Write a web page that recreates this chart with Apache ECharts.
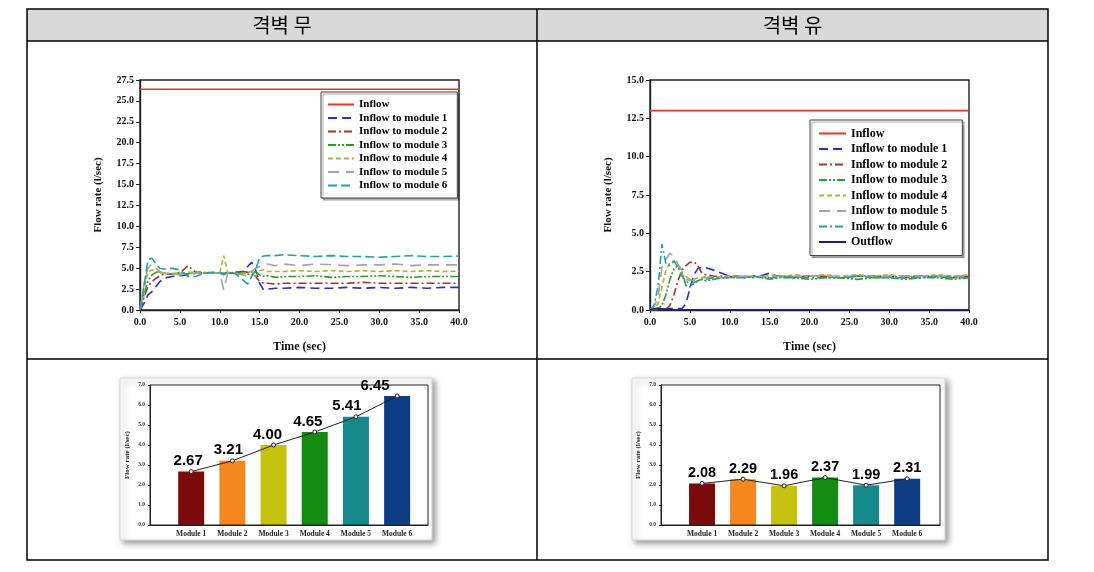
<!DOCTYPE html>
<html><head><meta charset="utf-8">
<script src="https://cdn.jsdelivr.net/npm/echarts@6/dist/echarts.min.js"></script>
<style>html,body{margin:0;padding:0;background:#fff}#c{width:1094px;height:572px}</style>
</head><body><div id="c"></div>
<script>
// ---------- DATA ----------
const headerTexts = ['격벽 무', '격벽 유'];

// Panel 1: without partition
const inflow1 = 26.4;
const time1 = [0,0.5,1,1.5,2,2.5,3,4,5,6,7,8,9,10,10.5,11,12,13,13.5,14,14.5,15,15.5,16,17,18,20,22,24,26,28,30,32,34,36,38,40];
const p1m1 = [0,0.8,1.8,2.2,2.8,3.4,3.8,4.0,4.1,4.2,4.4,4.5,4.4,4.4,4.4,4.4,4.5,4.6,5.2,5.7,4.8,3.2,2.4,2.5,2.6,2.6,2.7,2.6,2.6,2.7,2.6,2.7,2.6,2.7,2.6,2.7,2.7];
const p1m2 = [0,1.5,2.8,3.4,3.8,4.1,4.3,4.3,4.4,5.3,4.5,4.5,4.4,4.4,4.4,4.4,4.5,4.6,4.5,4.7,4.0,3.4,3.2,3.2,3.1,3.2,3.2,3.2,3.2,3.2,3.3,3.2,3.2,3.2,3.2,3.2,3.2];
const p1m3 = [0,1.8,3.5,4.2,4.5,4.5,4.4,4.3,4.5,4.3,4.6,4.4,4.5,4.4,4.2,4.5,4.4,4.4,4.3,4.2,4.6,4.2,4.0,4.1,3.9,4.0,4.0,4.1,3.9,4.0,4.0,4.1,4.0,3.9,4.0,4.0,4.0];
const p1m4 = [0,2.5,4.5,4.8,4.6,4.5,4.4,4.4,4.4,4.5,4.5,4.4,4.5,4.4,6.5,4.5,4.4,4.4,4.5,4.6,4.0,4.7,4.8,4.6,4.6,4.6,4.7,4.6,4.7,4.6,4.7,4.6,4.7,4.6,4.7,4.6,4.65];
const p1m5 = [0,3.0,5.0,5.5,5.0,4.6,4.4,4.3,4.2,4.3,4.4,4.5,4.4,4.4,2.4,4.4,4.3,4.2,4.0,4.6,5.0,5.2,5.4,5.5,5.3,5.5,5.3,5.5,5.4,5.3,5.4,5.4,5.5,5.3,5.4,5.4,5.4];
const p1m6 = [0,2.8,6.0,6.2,5.5,5.0,4.9,5.0,4.8,4.0,4.0,4.4,4.5,4.4,4.3,4.5,4.3,3.5,3.1,4.0,4.8,6.3,6.45,6.5,6.5,6.6,6.5,6.4,6.5,6.4,6.4,6.3,6.4,6.5,6.4,6.4,6.45];

// Panel 2: with partition
const inflow2 = 13.0;
const time2 = [0,0.5,1,1.5,2,2.5,3,3.5,4,4.5,5,5.5,6,6.5,7,8,9,10,11,12,13,14,15,16,17,18,20,22,24,26,28,30,32,34,36,38,40];
const p2m1 = [0,0,0.05,0.05,0.05,0.1,0.1,0.1,0.1,0.4,1.4,2.3,2.7,2.8,2.75,2.6,2.4,2.2,2.2,2.15,2.2,2.25,2.4,2.2,2.2,2.15,2.2,2.2,2.15,2.2,2.2,2.15,2.2,2.2,2.15,2.2,2.2];
const p2m2 = [0,0,0,0,0.05,0.3,1.0,1.9,2.6,2.9,3.1,3.15,2.9,2.4,2.3,2.2,2.2,2.2,2.1,2.2,2.1,2.2,2.1,2.2,2.2,2.1,2.2,2.2,2.1,2.2,2.2,2.2,2.1,2.2,2.2,2.1,2.2];
const p2m3 = [0,0.05,0.1,0.3,1.0,2.0,2.7,2.9,2.5,1.6,1.5,1.7,1.9,2.0,1.9,2.0,2.1,2.1,2.2,2.1,2.2,2.1,2.0,2.1,2.1,2.1,2.0,2.1,2.1,2.0,2.1,2.1,2.0,2.1,2.1,2.0,2.1];
const p2m4 = [0,0.1,0.4,1.5,2.6,3.1,3.2,2.9,2.4,2.0,1.9,2.0,2.1,2.1,2.2,2.1,2.2,2.2,2.1,2.2,2.2,2.1,2.3,2.2,2.2,2.3,2.2,2.3,2.2,2.3,2.2,2.3,2.2,2.2,2.3,2.2,2.3];
const p2m5 = [0,0.2,0.8,2.8,3.3,3.7,3.5,3.0,2.6,2.2,2.0,1.9,2.0,2.1,2.1,2.2,2.1,2.2,2.2,2.2,2.2,2.2,2.1,2.2,2.2,2.2,2.2,2.2,2.2,2.2,2.2,2.2,2.2,2.2,2.2,2.2,2.2];
const p2m6 = [0,0.3,1.5,4.3,3.0,2.9,3.2,2.8,2.2,1.9,1.7,1.8,1.9,2.0,2.0,2.1,2.1,2.1,2.1,2.1,2.2,2.1,2.1,2.1,2.2,2.1,2.1,2.1,2.1,2.2,2.1,2.1,2.1,2.1,2.2,2.1,2.1];
const p2out = [0,0.08,0.12,0.08,0.04,0.02,0,0,0,0,0,0,0,0,0,0,0,0,0,0,0,0,0,0,0,0,0,0,0,0,0,0,0,0,0,0,0];

const lineNames1 = ['Inflow','Inflow to module 1','Inflow to module 2','Inflow to module 3','Inflow to module 4','Inflow to module 5','Inflow to module 6'];
const lineNames2 = ['Inflow','Inflow to module 1','Inflow to module 2','Inflow to module 3','Inflow to module 4','Inflow to module 5','Inflow to module 6','Outflow'];

// Bar charts
const barCats = ['Module 1','Module 2','Module 3','Module 4','Module 5','Module 6'];
const barValsNo = [2.67, 3.21, 4.00, 4.65, 5.41, 6.45];
const barValsYes = [2.08, 2.29, 1.96, 2.37, 1.99, 2.31];

// ---------- STYLES ----------
const barColors = ['#7b0b0b','#f5871f','#c5c30d','#128c12','#168a8a','#0d3d84'];
const labelShiftNo = [-3,-4,-6,-7,-9,-22];
const lineColors = {inflow:'#e8352e', m1:'#2b2bd6', m2:'#9a3b2b', m3:'#2f9a32', m4:'#b3b330', m5:'#a3a3a3', m6:'#2a9ea2', out:'#1b1b7a'};
const SERIF = '"Liberation Serif", "DejaVu Serif", serif';

function pairs(t, v) { return t.map((x, i) => [x, v[i]]); }

function lineSeries(name, data, color, type, axis, width) {
  return { name, type: 'line', xAxisIndex: axis, yAxisIndex: axis, data, showSymbol: false, symbol: 'none',
    lineStyle: { color, width: width || 1.6, type }, itemStyle: { color }, animation: false };
}

const sfx = ' ';
const series = [
  lineSeries('Inflow', [[0, inflow1], [40, inflow1]], lineColors.inflow, 'solid', 0),
  lineSeries('Inflow to module 1', pairs(time1, p1m1), lineColors.m1, [9,5], 0),
  lineSeries('Inflow to module 2', pairs(time1, p1m2), lineColors.m2, [8,3,2,3], 0),
  lineSeries('Inflow to module 3', pairs(time1, p1m3), lineColors.m3, [8,2,2,2,2,2], 0),
  lineSeries('Inflow to module 4', pairs(time1, p1m4), lineColors.m4, [5,3], 0),
  lineSeries('Inflow to module 5', pairs(time1, p1m5), lineColors.m5, [11,7], 0),
  lineSeries('Inflow to module 6', pairs(time1, p1m6), lineColors.m6, [9,4], 0),

  lineSeries('Inflow' + sfx, [[0, inflow2], [40, inflow2]], lineColors.inflow, 'solid', 1),
  lineSeries('Inflow to module 1' + sfx, pairs(time2, p2m1), lineColors.m1, [9,5], 1),
  lineSeries('Inflow to module 2' + sfx, pairs(time2, p2m2), lineColors.m2, [8,3,2,3], 1),
  lineSeries('Inflow to module 3' + sfx, pairs(time2, p2m3), lineColors.m3, [8,2,2,2,2,2], 1),
  lineSeries('Inflow to module 4' + sfx, pairs(time2, p2m4), lineColors.m4, [5,3], 1),
  lineSeries('Inflow to module 5' + sfx, pairs(time2, p2m5), lineColors.m5, [11,7], 1),
  lineSeries('Inflow to module 6' + sfx, pairs(time2, p2m6), lineColors.m6, [8,3,2,3], 1),
  lineSeries('Outflow' + sfx, pairs(time2, p2out), lineColors.out, 'solid', 1),
];

function barSeries(vals, axis, fontSize, shifts) {
  return [{
    type: 'bar', xAxisIndex: axis, yAxisIndex: axis, barWidth: 26, animation: false,
    data: vals.map((v, i) => ({ value: [i + 1, v], itemStyle: { color: barColors[i] },
      label: { offset: [shifts ? shifts[i] : 0, 0] } })),
    label: { show: true, position: 'top', distance: 3, formatter: p => p.value[1].toFixed(2),
      fontFamily: '"Liberation Sans", Arial, sans-serif', fontWeight: 'bold', fontSize, color: '#000' }
  }, {
    type: 'line', xAxisIndex: axis, yAxisIndex: axis, animation: false, z: 4,
    data: vals.map((v, i) => [i + 1, v]),
    symbol: 'circle', symbolSize: 4,
    lineStyle: { color: '#222', width: 1 },
    itemStyle: { color: '#e8e8e8', borderColor: '#222', borderWidth: 1 }
  }];
}
series.push(...barSeries(barValsNo, 2, 15, labelShiftNo));
series.push(...barSeries(barValsYes, 3, 14.5, null));

const gridStyle = { show: true, borderColor: '#222', borderWidth: 1.4, backgroundColor: 'transparent' };
const grids = [
  Object.assign({ left: 140, top: 80, width: 319, height: 230 }, gridStyle),
  Object.assign({ left: 650, top: 80, width: 319, height: 230 }, gridStyle),
  Object.assign({ left: 150, top: 385, width: 278, height: 140, z: 5 }, gridStyle, { borderWidth: 1 }),
  Object.assign({ left: 661, top: 385, width: 279, height: 140, z: 5 }, gridStyle, { borderWidth: 1 }),
];

const tickLbl = { fontFamily: SERIF, fontWeight: 'bold', fontSize: 10, color: '#111' };
function timeX(gi) {
  return { type: 'value', gridIndex: gi, min: 0, max: 40, interval: 5,
    name: 'Time (sec)', nameLocation: 'middle', nameGap: 31,
    nameTextStyle: { fontFamily: SERIF, fontWeight: 'bold', fontSize: 12, color: '#111' },
    axisLine: { lineStyle: { color: '#222', width: 1.4 } },
    axisTick: { show: true, length: 3, lineStyle: { color: '#222' } },
    axisLabel: Object.assign({ margin: 7, formatter: v => v.toFixed(1) }, tickLbl),
    splitLine: { show: false } };
}
function flowY(gi, max) {
  return { type: 'value', gridIndex: gi, min: 0, max, interval: 2.5,
    name: 'Flow rate (l/sec)', nameLocation: 'middle', nameGap: 36,
    nameTextStyle: { fontFamily: SERIF, fontWeight: 'bold', fontSize: 11, color: '#111' },
    axisLine: { lineStyle: { color: '#222', width: 1.4 } },
    axisTick: { show: true, length: 4, lineStyle: { color: '#222' } },
    axisLabel: Object.assign({ margin: 6, formatter: v => v.toFixed(1) }, tickLbl),
    splitLine: { show: false } };
}
function barX(gi, max) {
  return { type: 'value', gridIndex: gi, min: 0, max, interval: 1,
    axisLine: { lineStyle: { color: '#222', width: 1 } },
    axisTick: { show: false },
    axisLabel: { margin: 5, showMaxLabel: false, fontFamily: SERIF, fontWeight: 'bold', fontSize: 7.5, color: '#222',
      formatter: v => (Number.isInteger(v) && v >= 1 && v <= 6) ? barCats[v - 1] : '' },
    splitLine: { show: false } };
}
function barY(gi) {
  return { type: 'value', gridIndex: gi, min: 0, max: 7, interval: 1,
    name: 'Flow rate (l/sec)', nameLocation: 'middle', nameGap: 19,
    nameTextStyle: { fontFamily: SERIF, fontWeight: 'bold', fontSize: 7, color: '#222' },
    axisLine: { lineStyle: { color: '#222', width: 1 } },
    axisTick: { show: true, length: 2, lineStyle: { color: '#222' } },
    axisLabel: { margin: 5, fontFamily: SERIF, fontWeight: 'bold', fontSize: 5.5, color: '#333', formatter: v => v.toFixed(1) },
    splitLine: { show: false } };
}

const legendText = (fs, lh) => ({ fontFamily: SERIF, fontWeight: 'bold', fontSize: fs, lineHeight: lh, color: '#000' });
const legendCommon = { orient: 'vertical', itemGap: 1.5, borderColor: '#444', borderWidth: 1, backgroundColor: '#fff',
  shadowColor: 'rgba(0,0,0,0.35)', shadowOffsetX: 2, shadowOffsetY: 2, shadowBlur: 1,
  itemStyle: { opacity: 0, borderWidth: 0 }, selectedMode: false };
const legends = [
  Object.assign({ left: 321, top: 92, padding: [6.5, 10, 6.5, 6], itemWidth: 26, itemHeight: 10,
    textStyle: legendText(11, 12), data: lineNames1 }, legendCommon),
  Object.assign({ left: 810, top: 120, padding: [6.5, 12, 6.5, 8], itemWidth: 27, itemHeight: 12,
    textStyle: legendText(12, 14), data: lineNames2.map(n => n + sfx) }, legendCommon),
];

const L = 27, R = 1048, T = 9, HB = 41, MID = 537, RS = 359, B = 560;
const stroke = { stroke: '#000', lineWidth: 1.5 };
const graphic = [
  { type: 'rect', z: 0, shape: { x: L, y: T, width: R - L, height: HB - T }, style: { fill: '#d9d9d9' } },
  { type: 'rect', z: 1, shape: { x: L, y: T, width: R - L, height: B - T }, style: Object.assign({ fill: 'none' }, stroke) },
  { type: 'line', z: 1, shape: { x1: L, y1: HB, x2: R, y2: HB }, style: stroke },
  { type: 'line', z: 1, shape: { x1: MID, y1: T, x2: MID, y2: B }, style: stroke },
  { type: 'line', z: 1, shape: { x1: L, y1: RS, x2: R, y2: RS }, style: stroke },
  { type: 'text', z: 2, x: (L + MID) / 2, y: (T + HB) / 2,
    style: { text: headerTexts[0], fontSize: 20, fontFamily: '"Noto Sans CJK KR", sans-serif', fill: '#000',
      align: 'center', verticalAlign: 'middle', textAlign: 'center', textVerticalAlign: 'middle' } },
  { type: 'text', z: 2, x: (MID + R) / 2, y: (T + HB) / 2,
    style: { text: headerTexts[1], fontSize: 20, fontFamily: '"Noto Sans CJK KR", sans-serif', fill: '#000',
      align: 'center', verticalAlign: 'middle', textAlign: 'center', textVerticalAlign: 'middle' } },
  { type: 'rect', z: 0, shape: { x: 120, y: 378, width: 312, height: 162 },
    style: { fill: '#fff', stroke: '#d8d8d8', lineWidth: 1, shadowBlur: 6, shadowColor: 'rgba(0,0,0,0.4)', shadowOffsetX: 3, shadowOffsetY: 3 } },
  { type: 'rect', z: 0, shape: { x: 632, y: 378, width: 313, height: 162 },
    style: { fill: '#fff', stroke: '#d8d8d8', lineWidth: 1, shadowBlur: 6, shadowColor: 'rgba(0,0,0,0.4)', shadowOffsetX: 3, shadowOffsetY: 3 } },
];

const chart = echarts.init(document.getElementById('c'), null, { renderer: 'canvas' });
chart.setOption({
  animation: false,
  backgroundColor: '#fff',
  graphic,
  grid: grids,
  xAxis: [timeX(0), timeX(1), barX(2, 6.75), barX(3, 6.8)],
  yAxis: [flowY(0, 27.5), flowY(1, 15), barY(2), barY(3)],
  legend: legends,
  series
});
</script>
</body></html>
